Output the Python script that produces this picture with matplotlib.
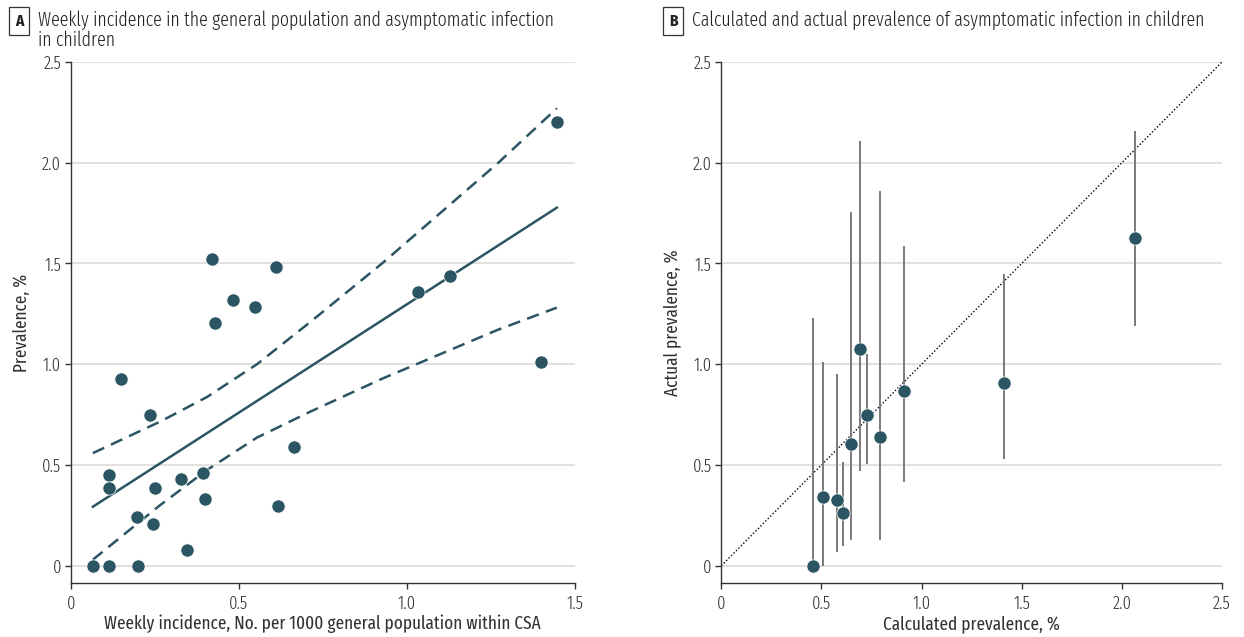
import matplotlib
matplotlib.use("Agg")
import matplotlib.pyplot as plt

# police condensée (style revue)
plt.rcParams["font.family"] = ["Fira Sans Extra Condensed", "DejaVu Sans"]
plt.rcParams["font.weight"] = 300

# Panel A : incidence hebdomadaire vs prévalence
incidence = [0.066, 0.114, 0.200, 0.114, 0.114, 0.149, 0.236, 0.198, 0.245, 0.250,
             0.327, 0.347, 0.394, 0.399, 0.420, 0.430, 0.482, 0.547, 0.612, 0.616,
             0.663, 1.033, 1.129, 1.399, 1.448]
prevalence = [0.0, 0.0, 0.0, 0.451, 0.385, 0.929, 0.749, 0.241, 0.207, 0.385,
              0.433, 0.078, 0.458, 0.329, 1.521, 1.205, 1.318, 1.285, 1.482, 0.299,
              0.587, 1.359, 1.437, 1.012, 2.204]

# droite de régression et intervalle de confiance
fit_x = [0.066, 1.446]
fit_y = [0.293, 1.777]
ci_x = [0.066, 0.267, 0.406, 0.554, 0.713, 0.926, 1.272, 1.446]
ci_upper = [0.559, 0.716, 0.838, 1.0, 1.21, 1.5, 2.0, 2.27]
ci_lower = [0.03, 0.302, 0.476, 0.636, 0.765, 0.928, 1.172, 1.281]

# Panel B : prévalence calculée vs réelle
calc_prev = [0.459, 0.507, 0.577, 0.607, 0.650, 0.694, 0.730, 0.795, 0.912, 1.410, 2.068]
actual_prev = [0.0, 0.341, 0.327, 0.264, 0.605, 1.076, 0.746, 0.640, 0.866, 0.909, 1.625]
err_low = [0.0, 0.0, 0.068, 0.096, 0.127, 0.468, 0.506, 0.127, 0.418, 0.530, 1.188]
err_high = [1.229, 1.009, 0.951, 0.516, 1.757, 2.110, 1.052, 1.859, 1.589, 1.448, 2.158]

ticks_y = [0, 0.5, 1.0, 1.5, 2.0, 2.5]
ticks_y_labels = ["0", "0.5", "1.0", "1.5", "2.0", "2.5"]
ticks_xa = [0, 0.5, 1.0, 1.5]
ticks_xa_labels = ["0", "0.5", "1.0", "1.5"]

dot_color = "#2b5562"
grid_color = "#dedede"
text_color = "#333333"

fig = plt.figure(figsize=(12.44, 6.37), dpi=100)
axA = fig.add_axes([0.0568, 0.0843, 0.4054, 0.8184])
axB = fig.add_axes([0.5798, 0.0843, 0.4025, 0.8184])


def style_axes(ax, xlim, xticks, xlabels):
    ax.set_xlim(*xlim)
    ax.set_ylim(-0.087, 2.5)
    ax.set_xticks(xticks)
    ax.set_xticklabels(xlabels)
    ax.set_yticks(ticks_y)
    ax.set_yticklabels(ticks_y_labels)
    for y in ticks_y:
        ax.axhline(y, color=grid_color, lw=1.3, zorder=0)
    for side in ("top", "right"):
        ax.spines[side].set_visible(False)
    for side in ("left", "bottom"):
        ax.spines[side].set_color("#333333")
        ax.spines[side].set_linewidth(1.0)
    ax.tick_params(axis="both", labelsize=13, colors="#333333",
                   length=4, width=1.0, labelcolor=text_color)
    ax.tick_params(axis="x", pad=4)
    ax.tick_params(axis="y", pad=3)


style_axes(axA, (0, 1.5), ticks_xa, ticks_xa_labels)
style_axes(axB, (0, 2.5), ticks_y, ticks_y_labels)

# Panel A
axA.plot(fit_x, fit_y, color=dot_color, lw=1.8, zorder=2)
axA.plot(ci_x, ci_upper, color=dot_color, lw=1.8, dashes=(5, 3), zorder=2)
axA.plot(ci_x, ci_lower, color=dot_color, lw=1.8, dashes=(5, 3), zorder=2)
axA.plot(incidence, prevalence, "o", color=dot_color, ms=9.5, mec="white",
         mew=0.5, zorder=3, clip_on=False)
axA.set_xlabel("Weekly incidence, No. per 1000 general population within CSA",
               fontsize=13.5, color=text_color, labelpad=2)
axA.set_ylabel("Prevalence, %", fontsize=13.5, color=text_color, labelpad=8)

# Panel B
axB.plot([0, 2.5], [0, 2.5], color="black", lw=1.0, linestyle=(0, (1, 1.5)), zorder=1)
axB.vlines(calc_prev, err_low, err_high, color="#7a7a7a", lw=1.4, zorder=2)
axB.plot(calc_prev, actual_prev, "o", color=dot_color, ms=9.5, mec="white",
         mew=0.5, zorder=3, clip_on=False)
axB.set_xlabel("Calculated prevalence, %", fontsize=13.5, color=text_color, labelpad=2)
axB.set_ylabel("Actual prevalence, %", fontsize=13.5, color=text_color, labelpad=8)

# titres avec lettre encadrée
box = dict(boxstyle="square,pad=0.35", fc="white", ec="#333333", lw=0.9)
fig.text(19 / 1244, 1 - 21 / 637, "A", fontsize=12, fontweight="bold",
         ha="center", va="center", bbox=box, color="#222222")
fig.text(38 / 1244, 1 - 10 / 637,
         "Weekly incidence in the general population and asymptomatic infection\nin children",
         fontsize=14, ha="left", va="top", color="#222222", linespacing=1.05)
fig.text(673 / 1244, 1 - 21 / 637, "B", fontsize=12, fontweight="bold",
         ha="center", va="center", bbox=box, color="#222222")
fig.text(692 / 1244, 1 - 10 / 637,
         "Calculated and actual prevalence of asymptomatic infection in children",
         fontsize=14, ha="left", va="top", color="#222222")

fig.savefig("out.png", dpi=100)
